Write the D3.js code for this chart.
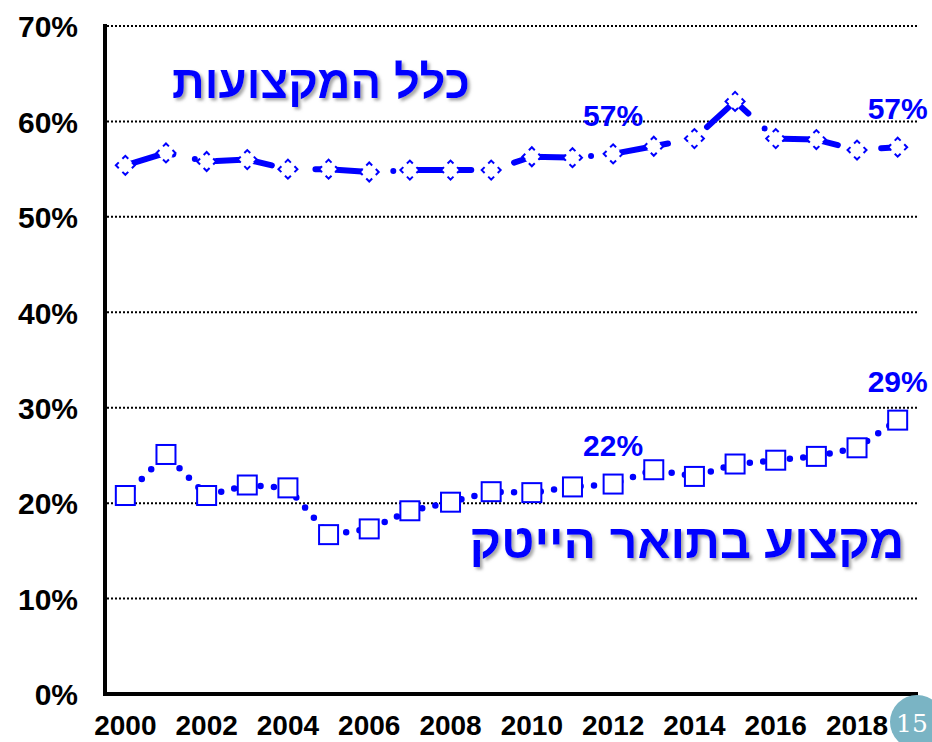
<!DOCTYPE html>
<html>
<head>
<meta charset="utf-8">
<script src="https://cdn.jsdelivr.net/npm/d3@7"></script>
<style>
  html, body { margin: 0; padding: 0; background: #fff; }
  svg { display: block; }
</style>
</head>
<body>
<svg id="chart" width="932" height="742"></svg>
<script>
// ---------- data ----------
const years = ["2000","2001","2002","2003","2004","2005","2006","2007","2008","2009",
               "2010","2011","2012","2013","2014","2015","2016","2017","2018","2019"];
const allProfessions = [55.4, 56.7, 55.8, 56.0, 55.0, 55.0, 54.7, 54.9, 54.9, 54.9,
                        56.3, 56.2, 56.6, 57.4, 58.2, 62.1, 58.2, 58.1, 57.0, 57.3];
const hiTechDegree   = [20.8, 25.1, 20.8, 21.9, 21.6, 16.7, 17.3, 19.2, 20.1, 21.2,
                        21.1, 21.7, 22.0, 23.5, 22.8, 24.1, 24.5, 24.9, 25.8, 28.7];
const yTicks = [0, 10, 20, 30, 40, 50, 60, 70];
const xTickLabels = ["2000","2002","2004","2006","2008","2010","2012","2014","2016","2018"];
const labelsAll = [{ year: "2012", text: "57%" }, { year: "2019", text: "57%" }];
const labelsHiTech = [{ year: "2012", text: "22%" }, { year: "2019", text: "29%" }];
const titleAll = "כלל המקצועות";
const titleHiTech = "מקצוע בתואר הייטק";

// ---------- layout ----------
(function () {
const BLUE = "#0000ff";
const FONT = "'Liberation Sans', Arial, sans-serif";
const svg = d3.select("#chart");
const pLeft = 105, pRight = 918, pTop = 26, pBottom = 694;

const x = d3.scaleBand().domain(years).range([pLeft, pRight]).padding(0);
const cx = d => x(d) + x.bandwidth() / 2;
const y = d3.scaleLinear().domain([0, 70]).range([pBottom, pTop]);

// shadow filter for titles
const defs = svg.append("defs");
const f = defs.append("filter").attr("id", "shadow")
  .attr("x", "-10%").attr("y", "-30%").attr("width", "130%").attr("height", "170%");
f.append("feDropShadow").attr("dx", 2.5).attr("dy", 2.5).attr("stdDeviation", 1.5)
  .attr("flood-color", "#808080").attr("flood-opacity", 0.7);

// gridlines
svg.append("g").selectAll("line").data(yTicks.filter(t => t > 0)).join("line")
  .attr("x1", pLeft + 2).attr("x2", pRight)
  .attr("y1", d => y(d)).attr("y2", d => y(d))
  .attr("stroke", "#000").attr("stroke-width", 2).attr("stroke-dasharray", "2 2");

// y axis labels
const yAxis = d3.axisLeft(y).tickValues(yTicks).tickFormat(d => d + "%").tickSize(0).tickPadding(27);
const gy = svg.append("g").attr("transform", `translate(${pLeft},0)`).call(yAxis);
gy.select(".domain").remove();
gy.selectAll("text").attr("font-family", FONT).attr("font-weight", "bold")
  .attr("font-size", 30).attr("fill", "#000").attr("dy", "0.36em");

// x axis labels
const xAxis = d3.axisBottom(x).tickValues(xTickLabels).tickSize(0).tickPadding(21);
const gx = svg.append("g").attr("transform", `translate(0,${pBottom})`).call(xAxis);
gx.select(".domain").remove();
gx.selectAll("text").attr("font-family", FONT).attr("font-weight", "bold")
  .attr("font-size", 28).attr("fill", "#000");

// axis lines
svg.append("line").attr("x1", pLeft).attr("x2", pLeft).attr("y1", pTop - 2).attr("y2", pBottom + 2)
  .attr("stroke", "#000").attr("stroke-width", 4);
svg.append("line").attr("x1", pLeft - 2).attr("x2", pRight).attr("y1", pBottom).attr("y2", pBottom)
  .attr("stroke", "#000").attr("stroke-width", 4);

// lines
const lineGen = d3.line().x((d, i) => cx(years[i])).y(d => y(d));
svg.append("path").datum(allProfessions).attr("d", lineGen)
  .attr("fill", "none").attr("stroke", BLUE).attr("stroke-width", 6)
  .attr("stroke-linecap", "round").attr("stroke-linejoin", "round")
  .attr("stroke-dasharray", "56 22 0 22").attr("stroke-dashoffset", 6);
svg.append("path").datum(hiTechDegree).attr("d", lineGen)
  .attr("fill", "none").attr("stroke", BLUE).attr("stroke-width", 6.5)
  .attr("stroke-linecap", "round").attr("stroke-dasharray", "0 13.4").attr("stroke-dashoffset", -10);

// diamond markers (dashed outline)
const h = 9.5, side = Math.SQRT2 * h;
svg.append("g").selectAll("path").data(allProfessions).join("path")
  .attr("d", (d, i) => {
    const px = cx(years[i]), py = y(d);
    return `M${px},${py - h}L${px + h},${py}L${px},${py + h}L${px - h},${py}Z`;
  })
  .attr("fill", "#fff").attr("stroke", BLUE).attr("stroke-width", 2)
  .attr("stroke-dasharray", `${0.62 * side} ${0.38 * side}`)
  .attr("stroke-dashoffset", 0.31 * side);

// square markers
const s = 19;
svg.append("g").selectAll("rect").data(hiTechDegree).join("rect")
  .attr("x", (d, i) => cx(years[i]) - s / 2).attr("y", d => y(d) - s / 2)
  .attr("width", s).attr("height", s)
  .attr("fill", "#fff").attr("stroke", BLUE).attr("stroke-width", 2);

// data labels
function addLabels(list, values) {
  svg.append("g").selectAll("text").data(list).join("text")
    .attr("x", d => cx(d.year))
    .attr("y", d => y(values[years.indexOf(d.year)]) - 28)
    .attr("text-anchor", "middle").attr("font-family", FONT).attr("font-weight", "bold")
    .attr("font-size", 30).attr("fill", BLUE).text(d => d.text);
}
addLabels(labelsAll, allProfessions);
addLabels(labelsHiTech, hiTechDegree);

// series titles
function addTitle(text, xc, base, width) {
  const t = svg.append("text").attr("x", xc).attr("y", base)
    .attr("text-anchor", "middle").attr("direction", "rtl")
    .attr("font-family", FONT).attr("font-weight", "bold").attr("font-size", 44)
    .attr("fill", BLUE).attr("filter", "url(#shadow)").text(text);
  const w = t.node().getComputedTextLength();
  if (w > 0) t.attr("font-size", 44 * width / w);
}
addTitle(titleAll, 321, 98, 298);
addTitle(titleHiTech, 687, 558, 435);

// logo badge (bottom right)
const logo = svg.append("g").attr("transform", "translate(917,722)");
logo.append("circle").attr("r", 27).attr("fill", "#7ab4c4");
logo.append("text").attr("x", -5).attr("y", 10).attr("text-anchor", "middle")
  .attr("font-family", "'DejaVu Serif', serif").attr("font-size", 25).attr("fill", "#fff")
  .text("15");
})();
</script>
</body>
</html>
